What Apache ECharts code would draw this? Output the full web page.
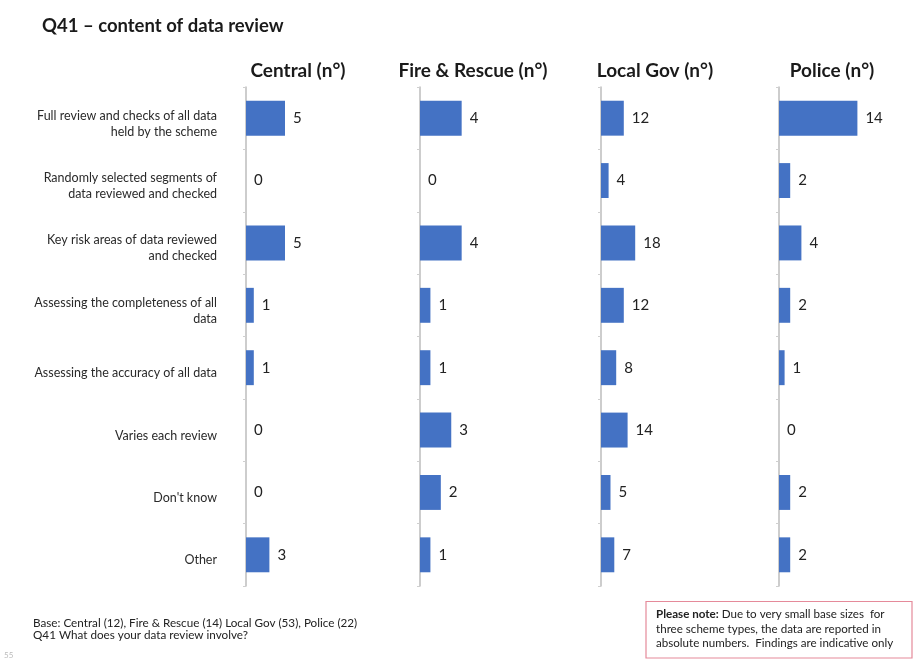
<!DOCTYPE html>
<html>
<head>
<meta charset="utf-8">
<script src="https://cdn.jsdelivr.net/npm/echarts@6/dist/echarts.min.js"></script>
<style>
html,body{margin:0;padding:0;background:#fff;}
#c{width:914px;height:662px;}
</style>
</head>
<body>
<div id="c"></div>
<script>
// ---- data ----
const categories = [
  "Full review and checks of all data\nheld by the scheme",
  "Randomly selected segments of\ndata reviewed and checked",
  "Key risk areas of data reviewed\nand checked",
  "Assessing the completeness of all\ndata",
  "Assessing the accuracy of all data",
  "Varies each review",
  "Don't know",
  "Other"
];
const panelTitles = ["Central (n°)", "Fire & Rescue (n°)", "Local Gov (n°)", "Police (n°)"];
const centralValues = [5, 0, 5, 1, 1, 0, 0, 3];
const fireRescueValues = [4, 0, 4, 1, 1, 3, 2, 1];
const localGovValues = [12, 4, 18, 12, 8, 14, 5, 7];
const policeValues = [14, 2, 4, 2, 1, 0, 2, 2];
const axisMax = [15, 12, 60, 20];
const chartTitle = "Q41 – content of data review";
const baseNote = "Base: Central (12), Fire & Rescue (14) Local Gov (53), Police (22)";
const questionNote = "Q41 What does your data review involve?";
const pageNumber = "55";

// ---- layout ----
const FONT = "Lato";
const seriesValues = [centralValues, fireRescueValues, localGovValues, policeValues];
const gridLeft = [246, 420, 601, 779];
const gridWidth = [117, 125, 114, 112];
const titleCenter = [298, 473, 655, 832];
const TOP = 87, HEIGHT = 499;
const BAR = "#4472C4";

const grids = [], xAxes = [], yAxes = [], series = [];
for (let i = 0; i < 4; i++) {
  grids.push({left: gridLeft[i], top: TOP, width: gridWidth[i], height: HEIGHT});
  xAxes.push({type: 'value', gridIndex: i, min: 0, max: axisMax[i], show: false});
  yAxes.push({
    type: 'category', gridIndex: i, data: categories, inverse: true,
    axisLine: {show: true, lineStyle: {color: '#bdbdbd', width: 1.5}},
    axisTick: {show: true, length: 3, lineStyle: {color: '#cfcfcf'}},
    axisLabel: i === 0 ? {
      show: true, margin: 29, fontFamily: FONT, fontSize: 12.5, color: '#2a2a2a',
      lineHeight: 16, align: 'right',
      formatter: v => '{s| }\n' + v,
      rich: {s: {fontSize: 1, lineHeight: 11}}
    } : {show: false}
  });
  series.push({
    type: 'bar', xAxisIndex: i, yAxisIndex: i, data: seriesValues[i],
    barCategoryGap: '44%',
    itemStyle: {color: BAR},
    label: {show: true, position: 'right', distance: 8, fontFamily: FONT,
            fontSize: 15, color: '#222'},
    silent: true
  });
}

const graphics = [
  {type: 'text', x: 42, y: 26, style: {text: chartTitle, font: 'bold 18.5px ' + FONT,
    fill: '#1a1a1a', verticalAlign: 'middle'}},
  {type: 'text', x: 33, y: 617, style: {text: baseNote + "\n" + questionNote,
    font: '11.7px ' + FONT, fill: '#222', lineHeight: 12}},
  {type: 'text', x: 4, y: 651, style: {text: pageNumber, font: '8px ' + FONT, fill: '#bbb'}},
  {type: 'rect', shape: {x: 646, y: 601.5, width: 266, height: 56.5},
    style: {fill: '#fff', stroke: '#e58a9a', lineWidth: 1.2}},
  {type: 'text', x: 656, y: 607, style: {
    text: "{b|Please note:} Due to very small base sizes  for\nthree scheme types, the data are reported in\nabsolute numbers.  Findings are indicative only",
    font: '11.6px ' + FONT, fill: '#222', lineHeight: 14.5,
    rich: {b: {fontWeight: 'bold', fontFamily: FONT, fontSize: 11.6, fill: '#222', lineHeight: 14.5}}
  }}
];
for (let i = 0; i < 4; i++) {
  graphics.push({type: 'text', x: titleCenter[i], y: 71, style: {
    text: panelTitles[i], font: 'bold 19px ' + FONT, fill: '#1a1a1a',
    align: 'center', verticalAlign: 'middle'}});
}

const chart = echarts.init(document.getElementById('c'), null, {renderer: 'canvas'});
chart.setOption({
  backgroundColor: '#fff',
  animation: false,
  grid: grids,
  xAxis: xAxes,
  yAxis: yAxes,
  series: series,
  graphic: graphics
});
</script>
</body>
</html>
